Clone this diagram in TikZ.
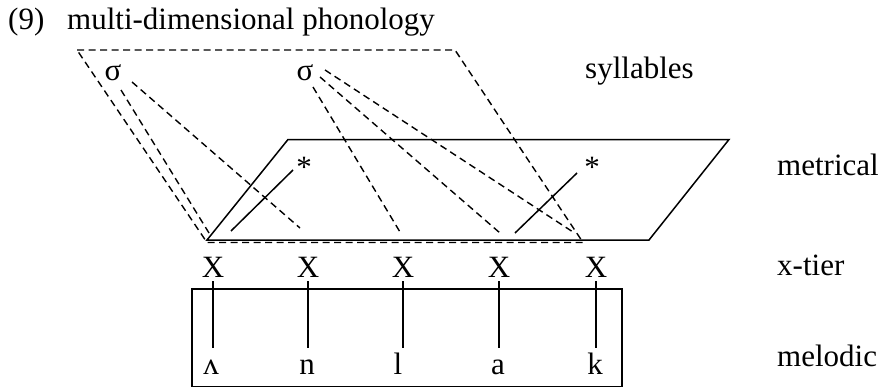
\documentclass[tikz,border=0pt]{standalone}
\usepackage{fontspec}
\setmainfont{Liberation Serif}
\usetikzlibrary{calc}
\begin{document}
\begin{tikzpicture}[x=1pt,y=-1pt,
  txt/.style={inner sep=0pt, font=\fontsize{31}{31}\selectfont},
  lbl/.style={txt, anchor=base west},
  xnode/.style={txt, anchor=base},
  seg/.style={txt, anchor=base, text height=26pt},
  syl/.style={txt, anchor=center},
  star/.style={txt, anchor=base},
  dsh/.style={line width=1.4pt, dash pattern=on 7pt off 4.5pt},
  sol/.style={line width=1.5pt}]
\useasboundingbox (0,0) rectangle (884,388);
% labels
\node[lbl] (num) at (8,29) {(9)};
\node[lbl] (title) at (67,29) {multi-dimensional phonology};
\node[lbl] (syllables) at (585,78) {syllables};
\node[lbl] (metrical) at (777,175) {metrical};
\node[lbl] (xtier) at (777,275) {x-tier};
\node[lbl] (melodic) at (777,366) {melodic};
% syllable plane (dashed)
\coordinate (s1) at (77,50);
\coordinate (s2) at (455,50);
\coordinate (s3) at (583,242.5);
\coordinate (s4) at (207,242.5);
\draw[dsh] (s1) -- (s2) -- (s3) -- (s4) -- cycle;
% metrical plane (solid)
\coordinate (m1) at (288,139.5);
\coordinate (m2) at (729,139.5);
\coordinate (m3) at (649,240);
\coordinate (m4) at (207,240);
\draw[sol] (m1) -- (m2) -- (m3) -- (m4) -- cycle;
% syllables
\node[syl] (sig1) at (113,73) {σ};
\node[syl] (sig2) at (305,73) {σ};
% endpoints on the x-tier line
\coordinate (e1) at (209,233);
\coordinate (e2) at (300,228);
\coordinate (e3) at (400,232);
\coordinate (e4) at (500,233);
\coordinate (e5) at (573,232);
\draw[dsh] ($(sig1)+(8,17)$) -- (e1);
\draw[dsh] ($(sig1)+(19,9)$) -- (e2);
\draw[dsh] ($(sig2)+(8,14)$) -- (e3);
\draw[dsh] ($(sig2)+(15,4)$) -- (e4);
\draw[dsh] ($(sig2)+(20,-3)$) -- (e5);
% stars
\node[star] (st1) at (304,177) {*};
\node[star] (st2) at (592,177) {*};
\coordinate (f1) at (231,231);
\coordinate (f2) at (515,233);
\draw[sol] ($(st1.base)+(-11,-7)$) -- (f1);
\draw[sol] ($(st2.base)+(-15,-4)$) -- (f2);
% x-tier
\node[xnode] (x1) at (213,277) {X};
\node[xnode] (x2) at (308,277) {X};
\node[xnode] (x3) at (403,277) {X};
\node[xnode] (x4) at (499,277) {X};
\node[xnode] (x5) at (596,277) {X};
% melodic
\draw[sol] (192,289) rectangle (622,386.5);
\node[seg] (l1) at (211,374) {ʌ};
\node[seg] (l2) at (307,374) {n};
\node[seg] (l3) at (398,374) {l};
\node[seg] (l4) at (498,374) {a};
\node[seg] (l5) at (595,374) {k};
\foreach \i in {1,...,5}{
  \draw[sol, shorten <=4pt] (x\i.south) -- (x\i.south |- l\i.north);
}
\end{tikzpicture}
\end{document}
